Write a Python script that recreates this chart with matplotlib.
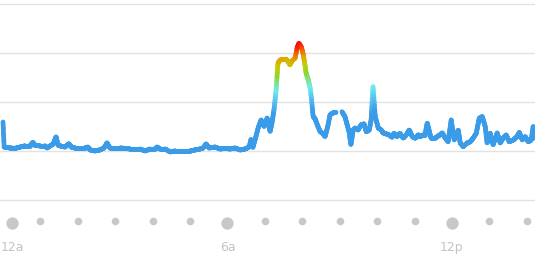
import numpy as np
import matplotlib
matplotlib.use("Agg")
import matplotlib.pyplot as plt
from matplotlib.collections import LineCollection
from matplotlib.colors import LinearSegmentedColormap

# hours since midnight and activity level (grid lines every 25)
hours = [0.00, 0.03, 0.19, 0.32, 0.46, 0.59, 0.72, 0.80, 0.86, 0.99, 1.12, 1.18, 1.26, 1.34, 1.42,
         1.47, 1.52, 1.66, 1.76, 1.84, 1.93, 2.06, 2.19, 2.27, 2.33, 2.46, 2.59, 2.70, 2.78, 2.86,
         2.99, 3.13, 3.26, 3.40, 3.53, 3.66, 3.80, 3.93, 4.06, 4.12, 4.20, 4.33, 4.47, 4.60, 4.73,
         4.87, 5.00, 5.13, 5.27, 5.35, 5.43, 5.51, 5.67, 5.80, 5.94, 6.07, 6.20, 6.34, 6.47, 6.58,
         6.63, 6.68, 6.76, 6.82, 6.90, 6.98, 7.06, 7.14, 7.19, 7.25, 7.30, 7.35, 7.41, 7.49, 7.57,
         7.62, 7.67, 7.73, 7.81, 7.86, 7.91, 7.97, 8.02, 8.07, 8.10, 8.16, 8.21, 8.24, 8.29, 8.34,
         8.42, 8.48, 8.53, 8.61, 8.69, 8.74, 8.82, 8.90, 8.98, 9.06, 9.14, 9.20, 9.25, 9.30, 9.36,
         9.41, 9.49, 9.57, 9.65, 9.71, 9.79, 9.84, 9.89, 9.95, 10.03, 10.11, 10.16, 10.24, 10.32,
         10.40, 10.45, 10.53, 10.61, 10.70, 10.78, 10.86, 10.94, 11.02, 11.10, 11.15, 11.23, 11.28,
         11.34, 11.44, 11.55, 11.68, 11.74, 11.82, 11.90, 11.98, 12.06, 12.17, 12.22, 12.30, 12.41,
         12.49, 12.57, 12.65, 12.73, 12.81, 12.89, 12.94, 13.02, 13.10, 13.21, 13.29, 13.37, 13.45,
         13.53, 13.64, 13.74, 13.80, 13.88, 13.96, 14.04, 14.12, 14.17, 14.22]
level = [39.8, 27.0, 26.5, 26.3, 27.0, 27.6, 27.6, 29.4, 27.8, 27.6, 27.6, 26.5, 27.6, 28.5, 32.3,
         28.0, 27.6, 27.0, 28.7, 26.8, 26.5, 26.5, 26.5, 27.0, 25.5, 25.0, 25.5, 26.5, 29.1, 26.5,
         26.5, 26.5, 26.3, 26.0, 26.0, 26.0, 25.0, 26.0, 26.0, 27.0, 26.0, 26.0, 24.5, 25.0, 25.0,
         25.0, 25.0, 25.5, 26.0, 26.5, 28.6, 26.5, 27.0, 26.0, 26.3, 26.0, 26.5, 25.5, 26.0, 27.0,
         31.0, 26.8, 32.3, 36.7, 40.8, 37.4, 41.8, 34.8, 39.3, 46.9, 56.0, 69.9, 71.4, 71.8, 71.8,
         70.6, 68.9, 71.1, 72.4, 77.6, 79.9, 78.2, 74.8, 69.0, 64.8, 61.2, 57.1, 52.7, 42.5, 41.5,
         37.4, 34.8, 34.2, 32.3, 38.3, 43.4, 44.4, 44.7, np.nan, 45.0, 42.5, 38.3, 34.8, 28.0, 35.7,
         36.7, 35.7, 38.3, 38.8, 34.8, 35.7, 40.8, 57.8, 42.5, 36.7, 35.7, 34.2, 33.7, 33.2,
         32.0, 34.0, 32.3, 34.0, 31.6, 33.2, 35.7, 32.3, 31.5, 33.2, 32.3, 33.2, 33.2,
         39.3, 31.6, 31.6, 33.2, 34.2, 31.6, 29.7, 40.8, 30.6, 35.7, 29.1, 27.2, 29.1,
         29.7, 31.6, 34.0, 41.7, 42.5, 37.4, 29.1, 34.2, 28.1, 34.2, 29.1, 31.6, 33.2,
         29.7, 30.6, 32.3, 34.5, 30.6, 32.3, 29.7, 30.6, 37.4, 31.6]

tick_hours = list(range(15))
tick_labels = {0: "12a", 6: "6a", 12: "12p"}

cmap = LinearSegmentedColormap.from_list("heat", [
    (0.0, "#3a9be8"), (0.56, "#3a9be8"), (0.65, "#5cc6f4"), (0.71, "#6eeeee"),
    (0.80, "#8cd82a"), (0.86, "#c8cc00"), (0.90, "#e0a800"), (0.94, "#f07000"),
    (1.0, "#ff0010")])

fig = plt.figure(figsize=(5.35, 2.77), dpi=100)
ax = fig.add_axes([0, 0, 1, 1])
ax.set_xlim(-0.08, 14.22)
ax.set_ylim(-39.3, 102)
ax.axis('off')

for g in [0, 25, 50, 75, 100]:
    ax.axhline(g, color="#e2e2e2", lw=1, zorder=1)

t = np.array(hours)
v = np.array(level)
# split at gaps and colour each small piece by its level
breaks = np.where(np.isnan(v))[0]
pieces = np.split(np.arange(len(v)), breaks)
for idx in pieces:
    idx = idx[~np.isnan(v[idx])]
    if len(idx) < 2:
        continue
    tf = np.linspace(t[idx][0], t[idx][-1], len(idx) * 12)
    vf = np.interp(tf, t[idx], v[idx])
    pts = np.column_stack([tf, vf]).reshape(-1, 1, 2)
    segs = np.concatenate([pts[:-1], pts[1:]], axis=1)
    lc = LineCollection(segs, cmap=cmap, linewidths=3.4, capstyle='round', joinstyle='round', zorder=3)
    lc.set_array((vf[:-1] + vf[1:]) / 2)
    lc.set_clim(0, 80)
    ax.add_collection(lc)

for h in tick_hours:
    x = max(h, 0.24)
    if h in tick_labels:
        ax.scatter(x, -12, s=78, color="#c8c8c8", lw=0, zorder=2)
        ax.text(x, -24.3, tick_labels[h], ha='center', va='center', fontsize=9, color="#c4c4c4")
    else:
        ax.scatter(x, -10.7, s=30, color="#c8c8c8", lw=0, zorder=2)

fig.savefig("out.png", dpi=100)
